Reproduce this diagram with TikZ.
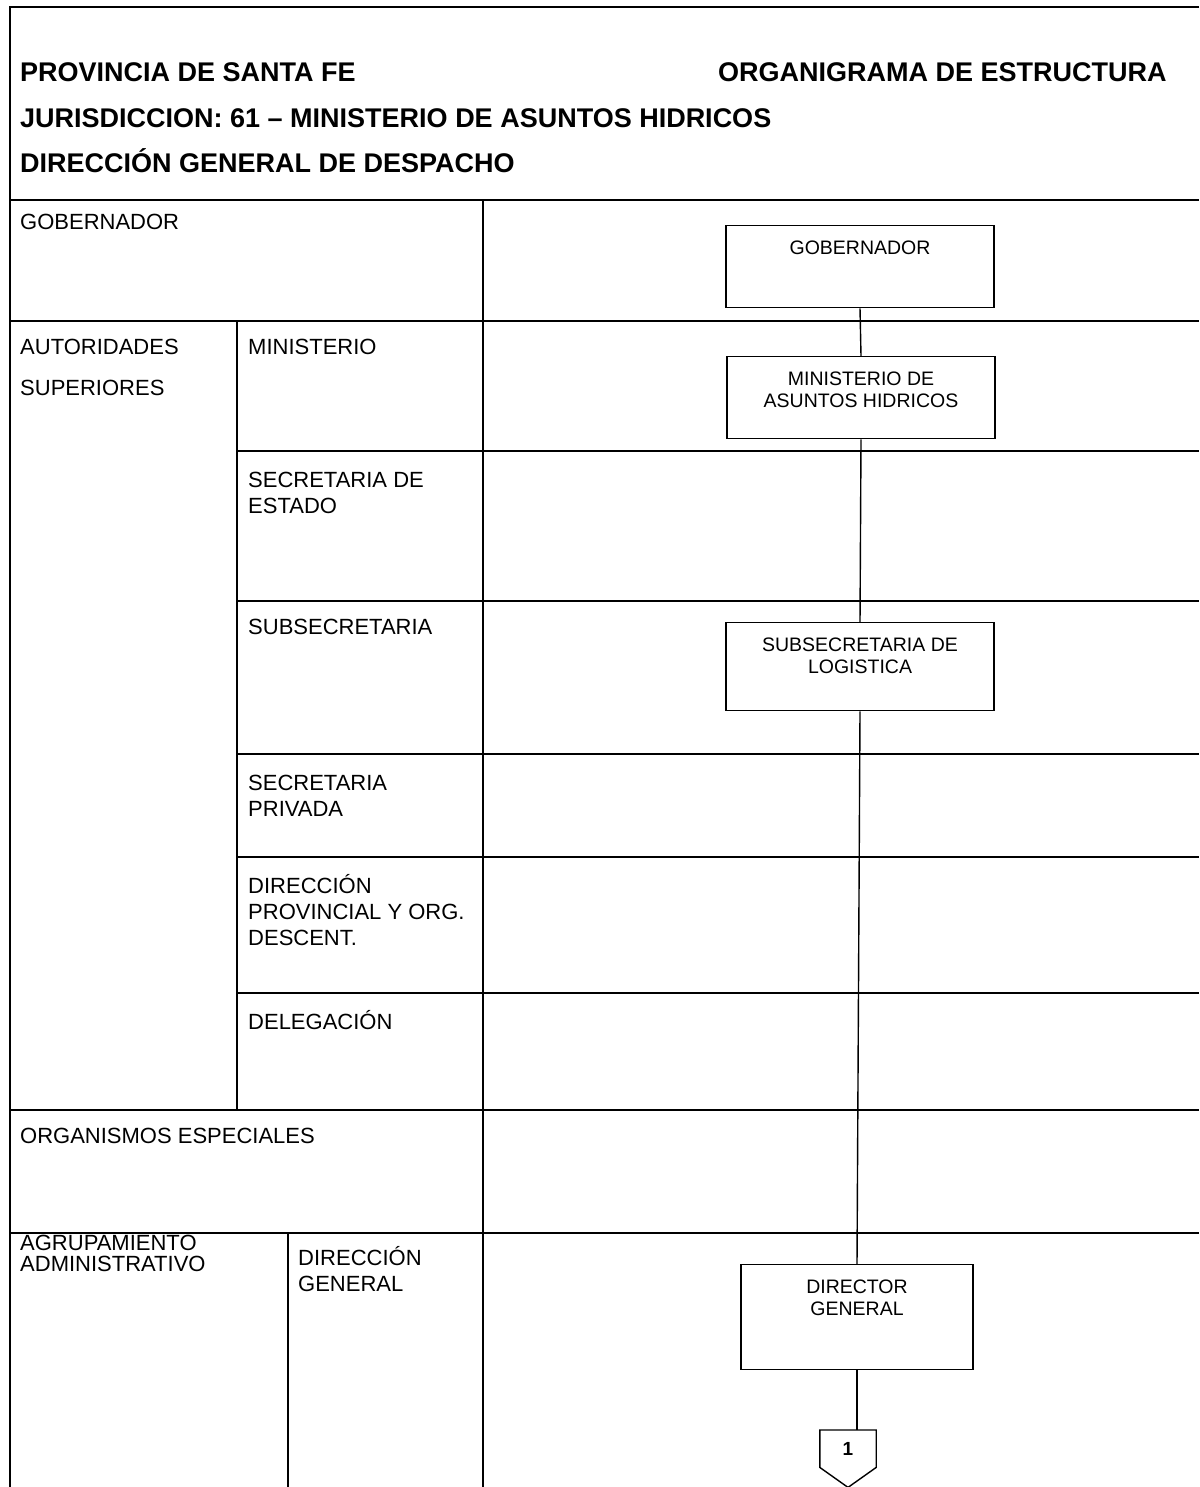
\documentclass[tikz,border=0pt]{standalone}
\usepackage{fontspec}
\setmainfont{Liberation Sans}
\usetikzlibrary{calc}
\newcommand\ml[1]{\begin{tabular}[t]{@{}l@{}}#1\end{tabular}}
\newcommand\bxt[3]{\parbox[t][#1pt][t]{#2pt}{\centering\vspace*{15pt}#3\par}}
\begin{document}
\begin{tikzpicture}[x=1pt,y=-1pt,
  grid/.style={line width=1.3pt},
  hdr/.style={anchor=base west, inner sep=0, font=\fontsize{27}{30}\selectfont\bfseries},
  lbl/.style={anchor=base west, inner sep=0, font=\fontsize{22}{26}\selectfont},
  box/.style={draw, line width=1.4pt, anchor=north, inner sep=0, font=\fontsize{19.5}{22}\selectfont},
  conn/.style={line width=1.4pt}]
\useasboundingbox (0,0) rectangle (1199,1487);
\fill[white] (0,0) rectangle (1199,1487);
% frame and grid
\draw[grid] (1199,7) -- (10,7) -- (10,1487);
\draw[grid, line width=1.8pt] (10,200) -- (1199,200);
\draw[grid] (483,200) -- (483,1487);
\draw[grid] (237,321) -- (237,1110);
\draw[grid] (288,1233) -- (288,1487);
\foreach \y in {321,1110,1233} \draw[grid] (10,\y) -- (1199,\y);
\foreach \y in {451,601,754,857,993} \draw[grid] (237,\y) -- (1199,\y);
% header
\node[hdr] (h1) at (20,82) {PROVINCIA DE SANTA FE};
\node[hdr] (h2) at (718,82) {ORGANIGRAMA DE ESTRUCTURA};
\node[hdr] (h3) at (20,128) {JURISDICCION: 61 – MINISTERIO DE ASUNTOS HIDRICOS};
\node[hdr] (h4) at (20,173) {DIRECCIÓN GENERAL DE DESPACHO};
% row labels
\node[lbl] (l1) at (20,230) {GOBERNADOR};
\node[lbl, font=\fontsize{22}{41}\selectfont] (l2) at (20,354) {\ml{AUTORIDADES\\SUPERIORES}};
\node[lbl] (l3) at (248,354) {MINISTERIO};
\node[lbl] (l4) at (248,487) {\ml{SECRETARIA DE\\ESTADO}};
\node[lbl] (l5) at (248,634) {SUBSECRETARIA};
\node[lbl] (l6) at (248,790) {\ml{SECRETARIA\\PRIVADA}};
\node[lbl] (l7) at (248,893) {\ml{DIRECCIÓN\\PROVINCIAL Y ORG.\\DESCENT.}};
\node[lbl] (l8) at (248,1029) {DELEGACIÓN};
\node[lbl] (l9) at (20,1143) {ORGANISMOS ESPECIALES};
\node[lbl, font=\fontsize{22}{20}\selectfont] (l10) at (20,1250) {\ml{AGRUPAMIENTO\\ADMINISTRATIVO}};
\node[lbl] (l11) at (298,1265) {\ml{DIRECCIÓN\\GENERAL}};
% boxes
\node[box] (gob) at (860,225) {\bxt{82}{268}{GOBERNADOR}};
\node[box] (min) at (861,356) {\bxt{82}{268}{MINISTERIO DE\\ASUNTOS HIDRICOS}};
\node[box] (sub) at (860,622) {\bxt{88}{268}{SUBSECRETARIA DE\\LOGISTICA}};
\node[box] (dg) at (857,1264) {\bxt{105}{232}{DIRECTOR\\GENERAL}};
\node[minimum width=56pt, minimum height=37pt, anchor=north, inner sep=0,
      font=\fontsize{19}{22}\selectfont\bfseries] (pg) at (848,1430) {1};
\draw[conn] (pg.north west) -- (pg.north east) -- (pg.south east)
  -- ($(pg.south)+(0,20)$) -- (pg.south west) -- cycle;
% connectors
\draw[conn] (gob.south) -- (min.north);
\draw[conn] (min.south) -- (sub.north);
\draw[conn] (sub.south) -- (dg.north);
\draw[conn] (dg.south) -- (dg.south |- pg.north);
\end{tikzpicture}
\end{document}
